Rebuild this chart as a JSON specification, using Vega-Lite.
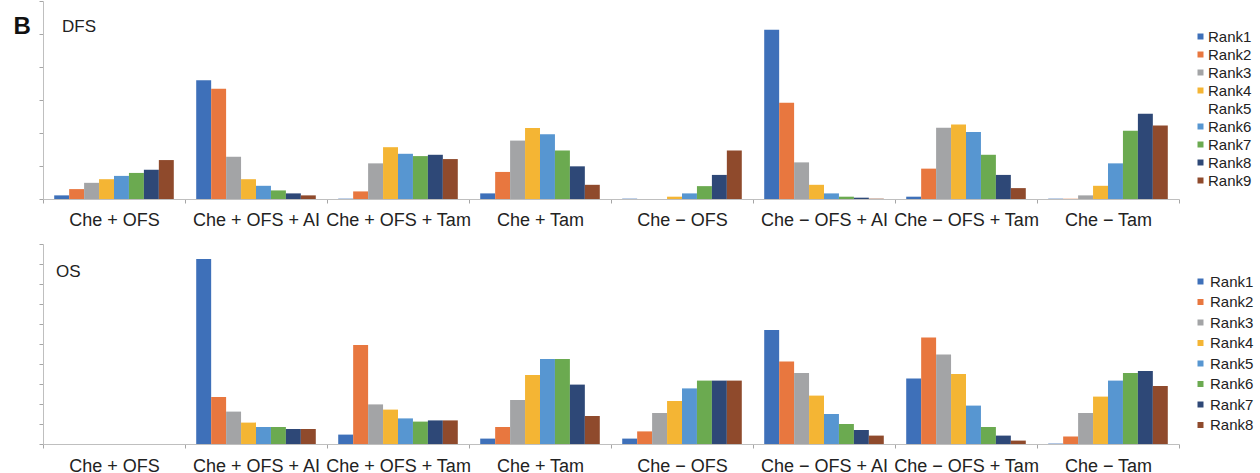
{
  "$schema": "https://vega.github.io/schema/vega-lite/v6.json",
  "background": "white",
  "padding": {"left": 13, "top": 0, "right": 0, "bottom": 0},
  "spacing": 14,
  "datasets": {
    "dfs": [
      {"group": "Che + OFS", "rank": "Rank1", "value": 0.11},
      {"group": "Che + OFS", "rank": "Rank2", "value": 0.30},
      {"group": "Che + OFS", "rank": "Rank3", "value": 0.49},
      {"group": "Che + OFS", "rank": "Rank4", "value": 0.60},
      {"group": "Che + OFS", "rank": "Rank6", "value": 0.70},
      {"group": "Che + OFS", "rank": "Rank7", "value": 0.79},
      {"group": "Che + OFS", "rank": "Rank8", "value": 0.89},
      {"group": "Che + OFS", "rank": "Rank9", "value": 1.18},
      {"group": "Che + OFS + AI", "rank": "Rank1", "value": 3.60},
      {"group": "Che + OFS + AI", "rank": "Rank2", "value": 3.34},
      {"group": "Che + OFS + AI", "rank": "Rank3", "value": 1.28},
      {"group": "Che + OFS + AI", "rank": "Rank4", "value": 0.60},
      {"group": "Che + OFS + AI", "rank": "Rank6", "value": 0.40},
      {"group": "Che + OFS + AI", "rank": "Rank7", "value": 0.26},
      {"group": "Che + OFS + AI", "rank": "Rank8", "value": 0.17},
      {"group": "Che + OFS + AI", "rank": "Rank9", "value": 0.11},
      {"group": "Che + OFS + Tam", "rank": "Rank1", "value": 0.01},
      {"group": "Che + OFS + Tam", "rank": "Rank2", "value": 0.23},
      {"group": "Che + OFS + Tam", "rank": "Rank3", "value": 1.08},
      {"group": "Che + OFS + Tam", "rank": "Rank4", "value": 1.57},
      {"group": "Che + OFS + Tam", "rank": "Rank6", "value": 1.37},
      {"group": "Che + OFS + Tam", "rank": "Rank7", "value": 1.30},
      {"group": "Che + OFS + Tam", "rank": "Rank8", "value": 1.34},
      {"group": "Che + OFS + Tam", "rank": "Rank9", "value": 1.21},
      {"group": "Che + Tam", "rank": "Rank1", "value": 0.17},
      {"group": "Che + Tam", "rank": "Rank2", "value": 0.82},
      {"group": "Che + Tam", "rank": "Rank3", "value": 1.77},
      {"group": "Che + Tam", "rank": "Rank4", "value": 2.15},
      {"group": "Che + Tam", "rank": "Rank6", "value": 1.96},
      {"group": "Che + Tam", "rank": "Rank7", "value": 1.47},
      {"group": "Che + Tam", "rank": "Rank8", "value": 0.99},
      {"group": "Che + Tam", "rank": "Rank9", "value": 0.43},
      {"group": "Che − OFS", "rank": "Rank1", "value": 0.01},
      {"group": "Che − OFS", "rank": "Rank2", "value": 0.0},
      {"group": "Che − OFS", "rank": "Rank3", "value": 0.0},
      {"group": "Che − OFS", "rank": "Rank4", "value": 0.07},
      {"group": "Che − OFS", "rank": "Rank6", "value": 0.17},
      {"group": "Che − OFS", "rank": "Rank7", "value": 0.39},
      {"group": "Che − OFS", "rank": "Rank8", "value": 0.73},
      {"group": "Che − OFS", "rank": "Rank9", "value": 1.47},
      {"group": "Che − OFS + AI", "rank": "Rank1", "value": 5.13},
      {"group": "Che − OFS + AI", "rank": "Rank2", "value": 2.92},
      {"group": "Che − OFS + AI", "rank": "Rank3", "value": 1.11},
      {"group": "Che − OFS + AI", "rank": "Rank4", "value": 0.43},
      {"group": "Che − OFS + AI", "rank": "Rank6", "value": 0.17},
      {"group": "Che − OFS + AI", "rank": "Rank7", "value": 0.07},
      {"group": "Che − OFS + AI", "rank": "Rank8", "value": 0.04},
      {"group": "Che − OFS + AI", "rank": "Rank9", "value": 0.01},
      {"group": "Che − OFS + Tam", "rank": "Rank1", "value": 0.07},
      {"group": "Che − OFS + Tam", "rank": "Rank2", "value": 0.92},
      {"group": "Che − OFS + Tam", "rank": "Rank3", "value": 2.16},
      {"group": "Che − OFS + Tam", "rank": "Rank4", "value": 2.26},
      {"group": "Che − OFS + Tam", "rank": "Rank6", "value": 2.03},
      {"group": "Che − OFS + Tam", "rank": "Rank7", "value": 1.34},
      {"group": "Che − OFS + Tam", "rank": "Rank8", "value": 0.73},
      {"group": "Che − OFS + Tam", "rank": "Rank9", "value": 0.33},
      {"group": "Che − Tam", "rank": "Rank1", "value": 0.01},
      {"group": "Che − Tam", "rank": "Rank2", "value": 0.01},
      {"group": "Che − Tam", "rank": "Rank3", "value": 0.11},
      {"group": "Che − Tam", "rank": "Rank4", "value": 0.40},
      {"group": "Che − Tam", "rank": "Rank6", "value": 1.08},
      {"group": "Che − Tam", "rank": "Rank7", "value": 2.07},
      {"group": "Che − Tam", "rank": "Rank8", "value": 2.58},
      {"group": "Che − Tam", "rank": "Rank9", "value": 2.23}
    ],
    "os": [
      {"group": "Che + OFS", "rank": "Rank1", "value": 0},
      {"group": "Che + OFS", "rank": "Rank2", "value": 0},
      {"group": "Che + OFS", "rank": "Rank3", "value": 0},
      {"group": "Che + OFS", "rank": "Rank4", "value": 0},
      {"group": "Che + OFS", "rank": "Rank5", "value": 0},
      {"group": "Che + OFS", "rank": "Rank6", "value": 0},
      {"group": "Che + OFS", "rank": "Rank7", "value": 0},
      {"group": "Che + OFS", "rank": "Rank8", "value": 0},
      {"group": "Che + OFS + AI", "rank": "Rank1", "value": 9.25},
      {"group": "Che + OFS + AI", "rank": "Rank2", "value": 2.35},
      {"group": "Che + OFS + AI", "rank": "Rank3", "value": 1.62},
      {"group": "Che + OFS + AI", "rank": "Rank4", "value": 1.07},
      {"group": "Che + OFS + AI", "rank": "Rank5", "value": 0.85},
      {"group": "Che + OFS + AI", "rank": "Rank6", "value": 0.85},
      {"group": "Che + OFS + AI", "rank": "Rank7", "value": 0.75},
      {"group": "Che + OFS + AI", "rank": "Rank8", "value": 0.75},
      {"group": "Che + OFS + Tam", "rank": "Rank1", "value": 0.47},
      {"group": "Che + OFS + Tam", "rank": "Rank2", "value": 4.95},
      {"group": "Che + OFS + Tam", "rank": "Rank3", "value": 1.98},
      {"group": "Che + OFS + Tam", "rank": "Rank4", "value": 1.72},
      {"group": "Che + OFS + Tam", "rank": "Rank5", "value": 1.28},
      {"group": "Che + OFS + Tam", "rank": "Rank6", "value": 1.12},
      {"group": "Che + OFS + Tam", "rank": "Rank7", "value": 1.18},
      {"group": "Che + OFS + Tam", "rank": "Rank8", "value": 1.18},
      {"group": "Che + Tam", "rank": "Rank1", "value": 0.27},
      {"group": "Che + Tam", "rank": "Rank2", "value": 0.85},
      {"group": "Che + Tam", "rank": "Rank3", "value": 2.2},
      {"group": "Che + Tam", "rank": "Rank4", "value": 3.45},
      {"group": "Che + Tam", "rank": "Rank5", "value": 4.25},
      {"group": "Che + Tam", "rank": "Rank6", "value": 4.25},
      {"group": "Che + Tam", "rank": "Rank7", "value": 2.97},
      {"group": "Che + Tam", "rank": "Rank8", "value": 1.4},
      {"group": "Che − OFS", "rank": "Rank1", "value": 0.27},
      {"group": "Che − OFS", "rank": "Rank2", "value": 0.63},
      {"group": "Che − OFS", "rank": "Rank3", "value": 1.55},
      {"group": "Che − OFS", "rank": "Rank4", "value": 2.15},
      {"group": "Che − OFS", "rank": "Rank5", "value": 2.78},
      {"group": "Che − OFS", "rank": "Rank6", "value": 3.17},
      {"group": "Che − OFS", "rank": "Rank7", "value": 3.17},
      {"group": "Che − OFS", "rank": "Rank8", "value": 3.17},
      {"group": "Che − OFS + AI", "rank": "Rank1", "value": 5.7},
      {"group": "Che − OFS + AI", "rank": "Rank2", "value": 4.13},
      {"group": "Che − OFS + AI", "rank": "Rank3", "value": 3.55},
      {"group": "Che − OFS + AI", "rank": "Rank4", "value": 2.42},
      {"group": "Che − OFS + AI", "rank": "Rank5", "value": 1.5},
      {"group": "Che − OFS + AI", "rank": "Rank6", "value": 1.0},
      {"group": "Che − OFS + AI", "rank": "Rank7", "value": 0.7},
      {"group": "Che − OFS + AI", "rank": "Rank8", "value": 0.42},
      {"group": "Che − OFS + Tam", "rank": "Rank1", "value": 3.28},
      {"group": "Che − OFS + Tam", "rank": "Rank2", "value": 5.33},
      {"group": "Che − OFS + Tam", "rank": "Rank3", "value": 4.47},
      {"group": "Che − OFS + Tam", "rank": "Rank4", "value": 3.5},
      {"group": "Che − OFS + Tam", "rank": "Rank5", "value": 1.92},
      {"group": "Che − OFS + Tam", "rank": "Rank6", "value": 0.85},
      {"group": "Che − OFS + Tam", "rank": "Rank7", "value": 0.42},
      {"group": "Che − OFS + Tam", "rank": "Rank8", "value": 0.17},
      {"group": "Che − Tam", "rank": "Rank1", "value": 0.02},
      {"group": "Che − Tam", "rank": "Rank2", "value": 0.37},
      {"group": "Che − Tam", "rank": "Rank3", "value": 1.55},
      {"group": "Che − Tam", "rank": "Rank4", "value": 2.37},
      {"group": "Che − Tam", "rank": "Rank5", "value": 3.17},
      {"group": "Che − Tam", "rank": "Rank6", "value": 3.55},
      {"group": "Che − Tam", "rank": "Rank7", "value": 3.65},
      {"group": "Che − Tam", "rank": "Rank8", "value": 2.9}
    ]
  },
  "vconcat": [
    {
      "width": 1136,
      "height": 198,
      "layer": [
        {
          "data": {"name": "dfs"},
          "mark": {"type": "bar"},
          "encoding": {
            "x": {
              "field": "group", "type": "nominal", "sort": null,
              "scale": {"paddingInner": 0, "paddingOuter": 0},
              "axis": {"title": null, "labelAngle": 0, "labelFontSize": 18, "labelColor": "#222222", "labelPadding": 8, "tickSize": 4, "tickBand": "extent", "labelOverlap": false, "labelLimit": 0, "domainColor": "#BFBFBF", "tickColor": "#A6A6A6"}
            },
            "xOffset": {"field": "rank", "type": "nominal", "scale": {"paddingInner": 0, "paddingOuter": 0.75}},
            "y": {
              "field": "value", "type": "quantitative",
              "scale": {"domain": [0, 6], "nice": false},
              "axis": {"title": "B", "titleAngle": 0, "titleX": -30, "titleY": 32, "titleAlign": "left", "titleBaseline": "alphabetic", "titleFontSize": 24, "titleFontWeight": "bold", "titleColor": "#111111", "labels": false, "grid": false, "values": [0, 1, 2, 3, 4, 5, 6], "tickCount": 20, "tickSize": 4, "domainColor": "#BFBFBF", "tickColor": "#A6A6A6"}
            },
            "color": {
              "field": "rank", "type": "nominal",
              "scale": {
                "domain": ["Rank1", "Rank2", "Rank3", "Rank4", "Rank5", "Rank6", "Rank7", "Rank8", "Rank9"],
                "range": ["#3E70B9", "#E8773F", "#A3A4A6", "#F4B534", "transparent", "#5796D1", "#6BAA50", "#2E4877", "#8F4A2C"]
              },
              "legend": {"title": null, "orient": "none", "legendX": 1150, "legendY": 28, "padding": 0, "symbolType": "square", "symbolSize": 36, "symbolStrokeWidth": 0, "labelFontSize": 15, "labelColor": "#222222", "labelOffset": 0, "rowPadding": 2}
            }
          }
        },
        {
          "data": {"values": [{"label": "DFS"}]},
          "mark": {"type": "text", "align": "left", "baseline": "middle", "dx": 19, "fontSize": 17, "color": "#222222"},
          "encoding": {
            "x": {"datum": "Che + OFS", "type": "nominal", "bandPosition": 0},
            "y": {"datum": 5.22, "type": "quantitative"},
            "text": {"field": "label"}
          }
        }
      ]
    },
    {
      "width": 1136,
      "height": 200,
      "layer": [
        {
          "data": {"name": "os"},
          "mark": {"type": "bar"},
          "encoding": {
            "x": {
              "field": "group", "type": "nominal", "sort": null,
              "scale": {"paddingInner": 0, "paddingOuter": 0},
              "axis": {"title": null, "labelAngle": 0, "labelFontSize": 18, "labelColor": "#222222", "labelPadding": 9, "tickSize": 4, "tickBand": "extent", "labelOverlap": false, "labelLimit": 0, "domainColor": "#BFBFBF", "tickColor": "#A6A6A6"}
            },
            "xOffset": {"field": "rank", "type": "nominal", "scale": {"paddingInner": 0, "paddingOuter": 0.75}},
            "y": {
              "field": "value", "type": "quantitative",
              "scale": {"domain": [0, 10], "nice": false},
              "axis": {"title": null, "labels": false, "grid": false, "values": [0, 1, 2, 3, 4, 5, 6, 7, 8, 9, 10], "tickCount": 20, "tickSize": 4, "domainColor": "#BFBFBF", "tickColor": "#A6A6A6"}
            },
            "color": {
              "field": "rank", "type": "nominal",
              "scale": {
                "domain": ["Rank1", "Rank2", "Rank3", "Rank4", "Rank5", "Rank6", "Rank7", "Rank8"],
                "range": ["#3E70B9", "#E8773F", "#A3A4A6", "#F4B534", "#5796D1", "#6BAA50", "#2E4877", "#8F4A2C"]
              },
              "legend": {"title": null, "orient": "none", "legendX": 1150, "legendY": 30, "padding": 0, "symbolType": "square", "symbolSize": 36, "symbolStrokeWidth": 0, "labelFontSize": 15, "labelColor": "#222222", "labelOffset": 2, "rowPadding": 4.5}
            }
          }
        },
        {
          "data": {"values": [{"label": "OS"}]},
          "mark": {"type": "text", "align": "left", "baseline": "middle", "dx": 13, "fontSize": 17, "color": "#222222"},
          "encoding": {
            "x": {"datum": "Che + OFS", "type": "nominal", "bandPosition": 0},
            "y": {"datum": 8.6, "type": "quantitative"},
            "text": {"field": "label"}
          }
        }
      ]
    }
  ],
  "resolve": {"scale": {"color": "independent", "xOffset": "independent", "x": "independent", "y": "independent"}, "legend": {"color": "independent"}},
  "config": {
    "font": "Liberation Sans",
    "view": {"stroke": null},
    "axis": {"domainWidth": 1, "tickWidth": 1}
  }
}
